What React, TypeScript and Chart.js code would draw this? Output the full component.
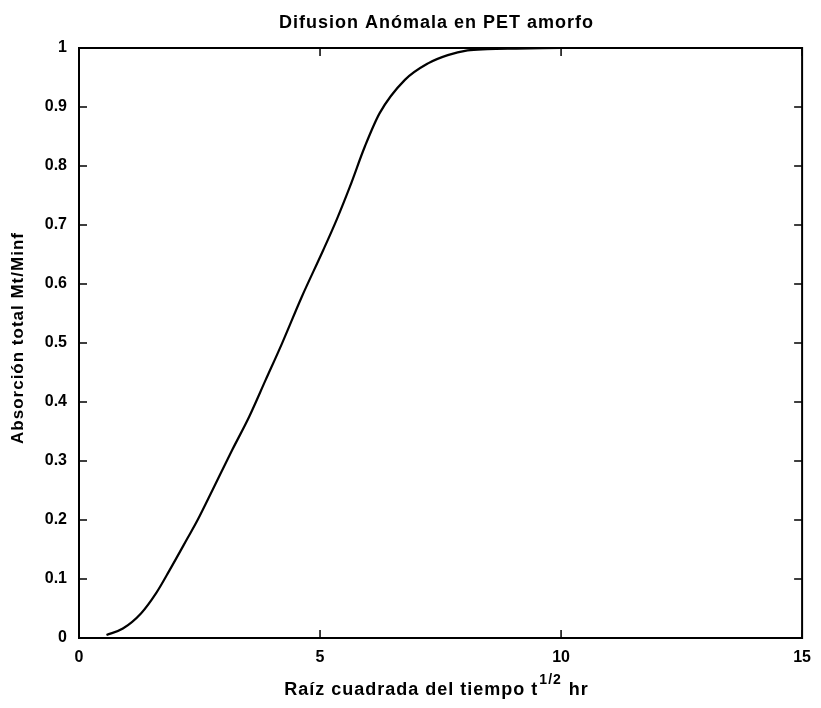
import React, { useEffect, useRef } from "react";
import { Chart, registerables } from "chart.js";

Chart.register(...registerables);

const sqrtTime = [0.57, 0.91, 1.29, 1.6, 1.88, 2.25, 2.46, 2.77, 3.18, 3.53, 3.87, 4.21, 4.62, 5.07, 5.35, 5.62, 5.93, 6.24, 6.76, 7.24, 7.65, 8.06, 8.47, 9.0, 10, 11, 12, 13, 14, 15];
const uptake = [0.005, 0.016, 0.042, 0.076, 0.115, 0.169, 0.2, 0.251, 0.319, 0.375, 0.437, 0.499, 0.578, 0.658, 0.71, 0.765, 0.833, 0.89, 0.946, 0.974, 0.988, 0.996, 0.998, 0.999, 1, 1, 1, 1, 1, 1];
const xTicks = [0, 5, 10, 15];
const yTicks = [0, 0.1, 0.2, 0.3, 0.4, 0.5, 0.6, 0.7, 0.8, 0.9, 1];
const titleText = "Difusion Anómala en PET amorfo";
const xLabelMain = "Raíz cuadrada del tiempo t";
const xLabelSup = "1/2";
const xLabelEnd = " hr";
const yLabelText = "Absorción total Mt/Minf";

const FONT = '"Liberation Sans", Arial, Helvetica, sans-serif';

const framePlugin = {
  id: "frame",
  afterDraw(chart: any) {
    const { ctx, chartArea } = chart;
    const { left, right, top, bottom } = chartArea;
    const xs = chart.scales.x;
    const ys = chart.scales.y;
    const tl = 8;
    ctx.save();
    ctx.strokeStyle = "#000";
    ctx.lineWidth = 2;
    ctx.strokeRect(left, top, right - left, bottom - top);
    ctx.lineWidth = 1.5;
    ctx.beginPath();
    xTicks.forEach((v) => {
      const px = xs.getPixelForValue(v);
      ctx.moveTo(px, bottom);
      ctx.lineTo(px, bottom - tl);
      ctx.moveTo(px, top);
      ctx.lineTo(px, top + tl);
    });
    yTicks.forEach((v) => {
      const py = ys.getPixelForValue(v);
      ctx.moveTo(left, py);
      ctx.lineTo(left + tl, py);
      ctx.moveTo(right, py);
      ctx.lineTo(right - tl, py);
    });
    ctx.stroke();

    ctx.fillStyle = "#000";
    const cx = (left + right) / 2 - 4;
    (ctx as any).letterSpacing = "1px";
    // title
    ctx.font = `bold 18px ${FONT}`;
    ctx.textAlign = "center";
    ctx.textBaseline = "alphabetic";
    ctx.fillText(titleText, cx, 28);

    // x label with superscript
    ctx.font = `bold 18px ${FONT}`;
    const wMain = ctx.measureText(xLabelMain).width;
    const wEnd = ctx.measureText(xLabelEnd).width;
    ctx.font = `bold 14px ${FONT}`;
    const wSup = ctx.measureText(xLabelSup).width;
    const total = wMain + wSup + wEnd + 2;
    let x0 = cx - total / 2;
    const yBase = 695;
    ctx.textAlign = "left";
    ctx.font = `bold 18px ${FONT}`;
    ctx.fillText(xLabelMain, x0, yBase);
    x0 += wMain + 1;
    ctx.font = `bold 14px ${FONT}`;
    ctx.fillText(xLabelSup, x0, yBase - 11);
    x0 += wSup + 1;
    ctx.font = `bold 18px ${FONT}`;
    ctx.fillText(xLabelEnd, x0, yBase);

    // y label
    ctx.save();
    ctx.translate(18, 338);
    ctx.rotate(-Math.PI / 2);
    ctx.textAlign = "center";
    ctx.textBaseline = "middle";
    ctx.font = `bold 17px ${FONT}`;
    ctx.fillText(yLabelText, 0, 0);
    ctx.restore();
    ctx.restore();
  },
};

export default function App() {
  const ref = useRef<HTMLCanvasElement | null>(null);
  useEffect(() => {
    document.body.style.margin = "0";
    const canvas = ref.current;
    if (!canvas) return;
    const chart = new Chart(canvas, {
      type: "scatter",
      data: {
        datasets: [
          {
            data: sqrtTime.map((x, i) => ({ x, y: uptake[i] })),
            showLine: true,
            borderColor: "#000",
            borderWidth: 2.2,
            pointRadius: 0,
            cubicInterpolationMode: "monotone",
            fill: false,
          },
        ],
      },
      options: {
        animation: false,
        responsive: false,
        maintainAspectRatio: false,
        layout: { padding: { top: 48, right: 14, left: 0, bottom: 0 } },
        plugins: {
          legend: { display: false },
          tooltip: { enabled: false },
          title: { display: false },
        },
        scales: {
          x: {
            type: "linear",
            min: 0,
            max: 15,
            afterBuildTicks: (s: any) => {
              s.ticks = xTicks.map((v) => ({ value: v }));
            },
            afterFit: (s: any) => {
              s.height = 70;
            },
            grid: { display: false, drawTicks: false },
            border: { display: false },
            ticks: {
              color: "#000",
              padding: 10,
              maxRotation: 0,
              font: { family: FONT, size: 16, weight: "bold" },
              callback: (v: any) => String(v),
            },
          },
          y: {
            type: "linear",
            min: 0,
            max: 1,
            afterBuildTicks: (s: any) => {
              s.ticks = yTicks.map((v) => ({ value: v }));
            },
            afterFit: (s: any) => {
              s.width = 79;
            },
            grid: { display: false, drawTicks: false },
            border: { display: false },
            ticks: {
              color: "#000",
              padding: 12,
              font: { family: FONT, size: 16, weight: "bold" },
              callback: (v: any) => String(Math.round(Number(v) * 10) / 10),
            },
          },
        },
      },
      plugins: [framePlugin],
    });
    return () => chart.destroy();
  }, []);
  return (
    <div style={{ width: 821, height: 708, background: "#fff" }}>
      <canvas ref={ref} width={821} height={708} style={{ display: "block", width: 821, height: 708 }} />
    </div>
  );
}
